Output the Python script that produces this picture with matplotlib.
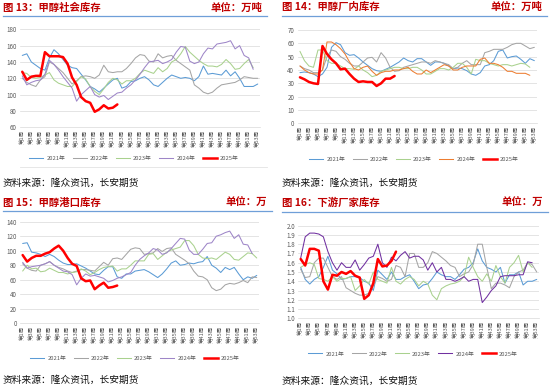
import matplotlib
matplotlib.use('Agg')
import matplotlib.pyplot as plt
from matplotlib.lines import Line2D
from matplotlib.ticker import FormatStrFormatter

plt.rcParams['font.family'] = ['Noto Sans CJK SC', 'DejaVu Sans']

W, H = 550, 387

years = ['2021年', '2022年', '2023年', '2024年', '2025年']
week_labels = [f'第{i}周' for i in range(1, 54, 2)]

# ---------- 图13 甲醇社会库存 (万吨) ----------
soc_2021 = [148, 150, 140, 136, 132, 130, 145, 155, 150, 143, 136, 133, 132, 125, 118, 110, 107, 103,
            108, 113, 118, 120, 108, 110, 116, 117, 120, 122, 118, 112, 110, 115, 120, 124, 122, 120,
            121, 120, 117, 122, 135, 125, 126, 125, 124, 130, 123, 128, 120, 110, 110, 110, 113]
soc_2022 = [120, 115, 112, 110, 118, 122, 140, 137, 132, 127, 120, 113, 117, 122, 123, 122, 120, 124,
            136, 128, 127, 128, 128, 132, 138, 145, 149, 148, 141, 140, 150, 145, 147, 148, 142, 138,
            134, 130, 112, 108, 103, 101, 103, 108, 112, 113, 114, 115, 118, 122, 121, 120, 120]
soc_2023 = [127, 126, 121, 120, 121, 124, 127, 118, 114, 112, 110, 110, 116, 122, 119, 110, 104, 100,
            107, 115, 120, 118, 113, 117, 117, 120, 126, 130, 128, 126, 133, 128, 132, 140, 143, 150,
            159, 152, 147, 142, 138, 135, 135, 134, 137, 143, 138, 131, 132, 138, 143, 133]
soc_2024 = [123, 112, 115, 117, 118, 125, 142, 137, 130, 122, 115, 108, 92, 100, 105, 110, 100, 97,
            99, 94, 98, 102, 103, 108, 112, 118, 125, 133, 140, 141, 142, 138, 140, 143, 152, 159,
            158, 141, 138, 140, 150, 157, 156, 162, 163, 164, 166, 156, 160, 148, 145, 131]
soc_2025 = [128, 118, 122, 123, 123, 152, 147, 147, 147, 146, 138, 121, 112, 97, 92, 90, 79, 82,
            87, 83, 84, 88]

# ---------- 图14 甲醇厂内库存 (万吨) ----------
fac_2021 = [38, 38.5, 38, 37, 35, 37, 42, 57, 60.5, 59, 53, 51, 51.5, 49, 46, 43.5, 41, 39.5, 39,
            40.5, 42, 44, 46, 49, 47, 46, 48.5, 48.5, 46, 43.5, 46, 46, 45, 43, 41, 41.5, 41, 39.5,
            37, 36, 38, 43, 44, 47, 54, 55, 49, 50, 50.5, 48, 45, 48.5, 47]
fac_2022 = [43, 41, 40, 38, 38, 40, 50, 55, 54, 50, 48, 45, 43, 43, 46, 49, 49.5, 46, 53, 49, 42,
            39, 39.5, 42, 43, 44, 45, 46, 46, 45, 47, 46, 45, 44, 41, 42, 45, 47, 44, 44, 44, 53,
            54, 55.5, 55.5, 55.5, 57, 59, 60, 60, 58, 56, 57]
fac_2023 = [54, 47, 43, 42, 55, 55, 47, 45, 45, 43, 41, 41, 40.5, 43, 40, 38, 35, 36, 39, 40, 41,
            42, 42, 41, 41, 42, 42, 40, 37, 37, 39, 41, 41, 40, 42, 45, 45, 42, 37, 48, 47, 47, 45,
            44, 43, 44, 44, 43, 44, 45, 44.5, 42]
fac_2024 = [43, 40, 38, 37, 37, 40, 61, 61, 59, 56, 52, 46, 41, 40, 42, 43, 39, 36, 38, 39, 39, 40,
            40, 41, 42, 39, 37, 37, 40, 38, 40, 42, 44, 43, 40, 40, 42, 43, 43, 43, 48, 49, 45, 45,
            44, 42, 39, 39, 37.5, 37.5, 37.5, 36]
fac_2025 = [34.5, 33, 31, 30, 29.5, 58, 52, 48, 45, 40.5, 41, 37, 33.5, 31, 31.5, 31, 31, 28, 30,
            33.5, 33.5, 35.5]

# ---------- 图15 甲醇港口库存 (万吨) ----------
port_2021 = [110, 111, 98, 97, 95, 92, 95, 92, 87, 83, 81, 81, 82, 79, 76, 72, 68, 67, 73, 78, 78,
             64, 62, 68, 68, 72, 73, 74, 71, 67, 63, 68, 75, 83, 86, 80, 81, 83, 82, 84, 85, 92, 80,
             76, 70, 77, 74, 77, 68, 60, 64, 62, 66]
port_2022 = [82, 76, 73, 72, 80, 82, 85, 80, 77, 75, 72, 70, 72, 74, 74, 73, 72, 78, 84, 80, 89, 90,
             88, 95, 102, 104, 103, 95, 96, 97, 103, 99, 103, 104, 95, 91, 87, 82, 72, 65, 64, 60,
             49, 45, 47, 53, 55, 54, 56, 59, 56, 64, 63]
port_2023 = [72, 80, 75, 76, 71, 72, 76, 73, 70, 70, 68, 70, 71, 75, 72, 67, 70, 74, 77, 78, 79, 72,
             75, 75, 80, 86, 86, 86, 95, 96, 88, 93, 98, 101, 103, 105, 114, 114, 107, 95, 90, 89,
             90, 88, 93, 98, 95, 88, 87, 92, 97, 96, 90]
port_2024 = [84, 76, 78, 79, 80, 82, 85, 80, 76, 72, 71, 67, 53, 62, 68, 65, 66, 64, 62, 57, 59, 62,
             64, 67, 70, 80, 88, 93, 97, 103, 101, 95, 97, 103, 110, 117, 116, 101, 95, 95, 102,
             110, 111, 120, 122, 125, 127, 117, 122, 109, 108, 96]
port_2025 = [94, 85, 90, 93, 93, 96, 98, 103, 107, 100, 90, 82, 79, 62, 58, 59, 47, 52, 56, 49, 50,
             52]

# ---------- 图16 下游厂家库存 (万吨) ----------
down_2021 = [1.55, 1.42, 1.37, 1.42, 1.45, 1.55, 1.67, 1.52, 1.48, 1.42, 1.43, 1.45, 1.45, 1.44,
             1.40, 1.38, 1.30, 1.52, 1.47, 1.42, 1.50, 1.42, 1.42, 1.45, 1.47, 1.40, 1.32, 1.36,
             1.37, 1.43, 1.50, 1.47, 1.45, 1.45, 1.42, 1.47, 1.53, 1.55, 1.60, 1.75, 1.62, 1.55,
             1.53, 1.50, 1.55, 1.38, 1.47, 1.47, 1.50, 1.36, 1.40, 1.40, 1.42]
down_2022 = [1.53, 1.44, 1.45, 1.60, 1.65, 1.65, 1.55, 1.45, 1.42, 1.45, 1.33, 1.30, 1.27, 1.25,
             1.25, 1.27, 1.35, 1.45, 1.43, 1.40, 1.42, 1.57, 1.55, 1.45, 1.70, 1.70, 1.55, 1.55,
             1.60, 1.72, 1.70, 1.66, 1.62, 1.57, 1.55, 1.45, 1.48, 1.50, 1.58, 1.80, 1.80, 1.55,
             1.32, 1.38, 1.38, 1.36, 1.33, 1.45, 1.50, 1.52, 1.60, 1.58, 1.50]
down_2023 = [1.55, 1.58, 1.60, 1.58, 1.43, 1.42, 1.40, 1.45, 1.40, 1.43, 1.43, 1.45, 1.30, 1.35,
             1.42, 1.37, 1.50, 1.42, 1.40, 1.38, 1.55, 1.40, 1.37, 1.42, 1.45, 1.42, 1.35, 1.40,
             1.37, 1.25, 1.20, 1.32, 1.35, 1.37, 1.38, 1.40, 1.45, 1.66, 1.55, 1.45, 1.40, 1.48,
             1.40, 1.57, 1.45, 1.38, 1.55, 1.60, 1.68, 1.50, 1.60, 1.55]
down_2024 = [1.65, 1.88, 1.92, 1.92, 1.91, 1.88, 1.72, 1.60, 1.52, 1.60, 1.55, 1.55, 1.63, 1.52,
             1.58, 1.65, 1.67, 1.80, 1.60, 1.55, 1.66, 1.62, 1.68, 1.72, 1.65, 1.67, 1.67, 1.63,
             1.52, 1.60, 1.50, 1.55, 1.42, 1.42, 1.40, 1.42, 1.45, 1.40, 1.42, 1.42, 1.17, 1.23,
             1.30, 1.35, 1.45, 1.46, 1.46, 1.46, 1.47, 1.47, 1.61, 1.60]
down_2025 = [1.64, 1.57, 1.75, 1.75, 1.73, 1.40, 1.31, 1.47, 1.46, 1.50, 1.48, 1.51, 1.46, 1.44,
             1.21, 1.25, 1.38, 1.64, 1.56, 1.57, 1.62, 1.72]

C21, C22, C23, C25 = '#5B9BD5', '#A5A5A5', '#A9D18E', '#FF0000'
TITLE_C = '#C00000'
SEP_C = '#6F9FD8'
TXT_C = '#595959'
GRID_C = '#D9D9D9'

fig = plt.figure(figsize=(5.5, 3.87), dpi=100)


def add_ax(l, t, r, b):
    return fig.add_axes([l / W, 1 - b / H, (r - l) / W, (b - t) / H])


def fx(px):
    return px / W


def fy(py):
    return 1 - py / H


def panel(box, series, colors, ylim, ystep, yfmt, title, unit, title_y, sep_y,
          x0, x1, legend_xy, src_y):
    ax = add_ax(*box)
    for i, (s, c) in enumerate(zip(series, colors)):
        lw = 1.8 if i == 4 else 0.75
        ax.plot(range(1, len(s) + 1), s, color=c, lw=lw, zorder=3 + i,
                solid_joinstyle='round', solid_capstyle='round')
    ax.set_xlim(0.5, 53.5)
    ax.set_ylim(*ylim)
    n = int(round((ylim[1] - ylim[0]) / ystep))
    ticks = [ylim[0] + k * ystep for k in range(n + 1)]
    ax.set_yticks(ticks)
    if yfmt:
        ax.yaxis.set_major_formatter(FormatStrFormatter(yfmt))
    ax.set_xticks(range(1, 54, 2))
    ax.set_xticklabels(week_labels, rotation=90, fontsize=4.0, color=TXT_C)
    ax.tick_params(axis='x', length=0, pad=2)
    ax.tick_params(axis='y', length=0, pad=2.5, labelsize=4.5, labelcolor=TXT_C)
    ax.grid(axis='y', color=GRID_C, lw=0.5)
    ax.set_axisbelow(True)
    for sp in ['top', 'right', 'left']:
        ax.spines[sp].set_visible(False)
    ax.spines['bottom'].set_color(GRID_C)
    ax.spines['bottom'].set_linewidth(0.5)
    ax.patch.set_alpha(0)

    # title, unit, separator
    fig.text(fx(x0), fy(title_y), title, color=TITLE_C, fontsize=7.5, fontweight='bold',
             ha='left', va='center')
    fig.text(fx(x1), fy(title_y), unit, color=TITLE_C, fontsize=7.5, fontweight='bold',
             ha='right', va='center')
    fig.add_artist(Line2D([fx(x0), fx(x1 + 5)], [fy(sep_y), fy(sep_y)], color=SEP_C, lw=0.9,
                          transform=fig.transFigure))

    handles = [Line2D([], [], color=c, lw=(1.8 if i == 4 else 0.75)) for i, c in enumerate(colors)]
    fig.legend(handles, years, loc='center', bbox_to_anchor=(fx(legend_xy[0]), fy(legend_xy[1])),
               ncol=5, frameon=False, fontsize=4.2, handlelength=2.4, handletextpad=0.5,
               columnspacing=1.3, labelcolor=TXT_C, borderpad=0, borderaxespad=0)

    fig.text(fx(x0), fy(src_y), '资料来源：隆众资讯，长安期货', color='#111111', fontsize=7,
             ha='left', va='center')
    return ax


panel((20.0, 29.3, 260.0, 127.3), [soc_2021, soc_2022, soc_2023, soc_2024, soc_2025],
      [C21, C22, C23, '#9E86C8', C25], (60, 180), 20, None,
      '图 13：甲醇社会库存', '单位：万吨', 8, 15.5, 3, 262, (134, 158), 183)

panel((297.7, 30.0, 536.6, 123.3), [fac_2021, fac_2022, fac_2023, fac_2024, fac_2025],
      [C21, C22, C23, '#ED7D31', C25], (0, 70), 10, None,
      '图 14：甲醇厂内库存', '单位：万吨', 7, 15.5, 282, 542, (414, 159), 183)

panel((20.4, 221.7, 259.0, 323.3), [port_2021, port_2022, port_2023, port_2024, port_2025],
      [C21, C22, C23, '#9E86C8', C25], (0, 140), 20, None,
      '图 15：甲醇港口库存', '单位：万', 202.5, 211, 3, 267, (135, 358), 380)

panel((298.4, 225.7, 539.0, 318.3), [down_2021, down_2022, down_2023, down_2024, down_2025],
      [C21, C22, C23, '#7030A0', C25], (1.0, 2.0), 0.1, '%.1f',
      '图 16：下游厂家库存', '单位：万', 202.5, 211.5, 282, 543, (413, 354), 380.5)

# faint frame line under the first panel's legend
fig.add_artist(Line2D([fx(20), fx(267)], [fy(167), fy(167)], color='#E3E3E3', lw=0.6,
                      transform=fig.transFigure))

fig.savefig('out.png', dpi=100)
